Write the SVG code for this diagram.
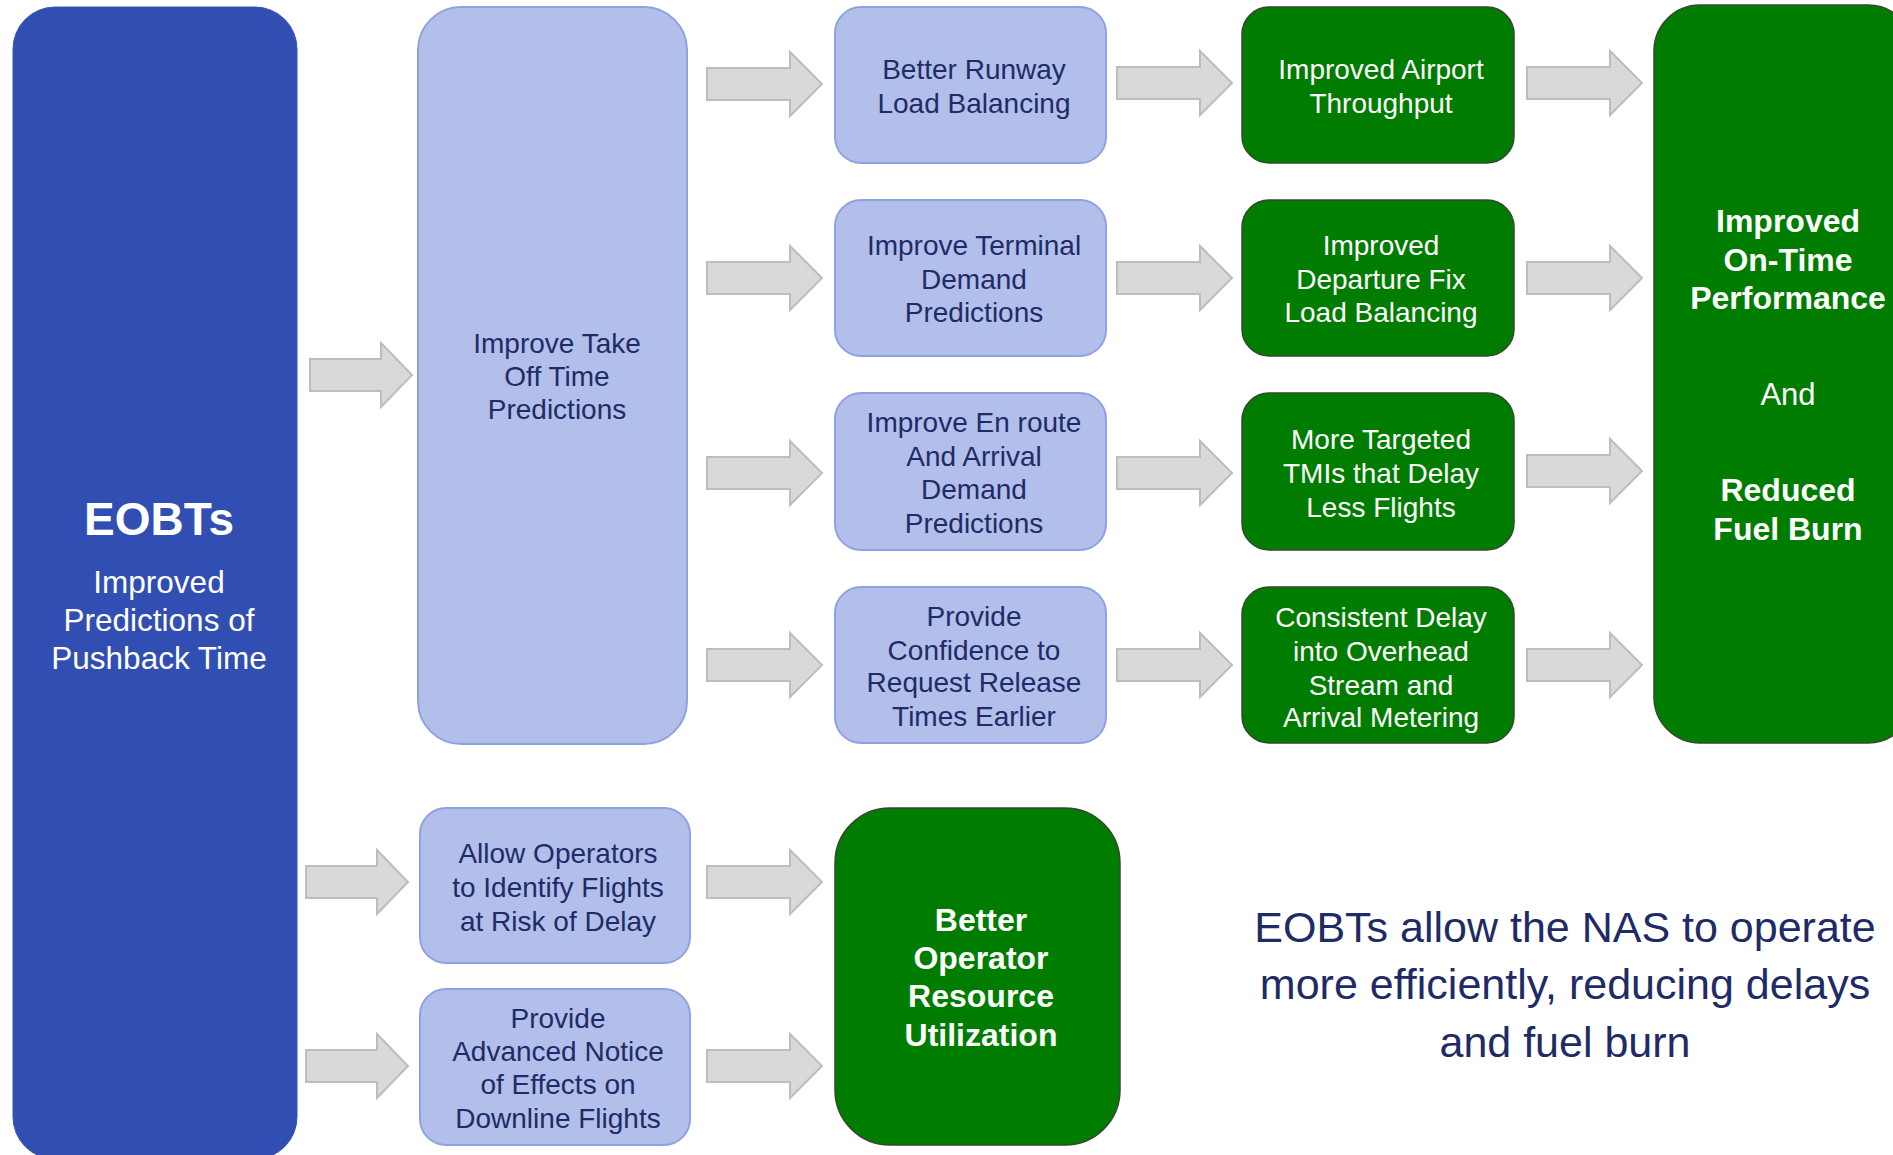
<svg xmlns="http://www.w3.org/2000/svg" width="1893" height="1155" viewBox="0 0 1893 1155">
<defs>
<style>
.bg{fill:#ffffff}
.eobt{fill:#314EB3;stroke:#3A55B8;stroke-width:1}
.blue{fill:#B1BFEA;stroke:#8FA2E0;stroke-width:2}
.green{fill:#007C00;stroke:#34482E;stroke-width:1.5}
.arr{fill:#D9D9D9;stroke:#BDBDBD;stroke-width:2}
.t{font-family:"Liberation Sans",Arial,sans-serif;text-anchor:middle}
.bt{fill:#1F2B66;font-size:28px}
.gt{fill:#ffffff;font-size:28px}
.wb{fill:#ffffff;font-size:32px;font-weight:bold}
.big{fill:#1F2B66;font-size:43px}
</style>
<path id="al" d="M0,-16 H83 V-32 L115,0 L83,32 V16 H0 Z"/>
<path id="as" d="M0,-16 H71 V-32 L102,0 L71,32 V16 H0 Z"/>
</defs>
<rect class="bg" x="0" y="0" width="1893" height="1155"/>

<g id="connectors" class="arr">
<use href="#as" x="310" y="375"/>
<use href="#al" x="707" y="84"/>
<use href="#al" x="707" y="278"/>
<use href="#al" x="707" y="473"/>
<use href="#al" x="707" y="665"/>
<use href="#al" x="1117" y="83"/>
<use href="#al" x="1117" y="278"/>
<use href="#al" x="1117" y="473"/>
<use href="#al" x="1117" y="665"/>
<use href="#al" x="1527" y="83"/>
<use href="#al" x="1527" y="278"/>
<use href="#al" x="1527" y="471"/>
<use href="#al" x="1527" y="665"/>
<use href="#as" x="306" y="882"/>
<use href="#as" x="306" y="1066"/>
<use href="#al" x="707" y="882"/>
<use href="#al" x="707" y="1066"/>
</g>

<g id="eobts">
<rect class="eobt" x="13" y="7" width="284" height="1152" rx="42"/>
<text class="t" x="159" y="535" fill="#ffffff" font-size="46" font-weight="bold">EOBTs</text>
<text class="t" x="159" y="593" fill="#ffffff" font-size="31.5">Improved</text>
<text class="t" x="159" y="631" fill="#ffffff" font-size="31.5">Predictions of</text>
<text class="t" x="159" y="669" fill="#ffffff" font-size="31.5">Pushback Time</text>
</g>

<g id="takeoff">
<rect class="blue" x="418" y="7" width="269" height="737" rx="43"/>
<text class="t bt" x="557" y="353">Improve Take</text>
<text class="t bt" x="557" y="386">Off Time</text>
<text class="t bt" x="557" y="419">Predictions</text>
</g>

<g id="runway">
<rect class="blue" x="835" y="7" width="271" height="156" rx="26"/>
<text class="t bt" x="974" y="79">Better Runway</text>
<text class="t bt" x="974" y="113">Load Balancing</text>
</g>
<g id="terminal">
<rect class="blue" x="835" y="200" width="271" height="156" rx="26"/>
<text class="t bt" x="974" y="255">Improve Terminal</text>
<text class="t bt" x="974" y="288.5">Demand</text>
<text class="t bt" x="974" y="322">Predictions</text>
</g>
<g id="enroute">
<rect class="blue" x="835" y="393" width="271" height="157" rx="26"/>
<text class="t bt" x="974" y="432">Improve En route</text>
<text class="t bt" x="974" y="466">And Arrival</text>
<text class="t bt" x="974" y="499">Demand</text>
<text class="t bt" x="974" y="533">Predictions</text>
</g>
<g id="release">
<rect class="blue" x="835" y="587" width="271" height="156" rx="26"/>
<text class="t bt" x="974" y="626">Provide</text>
<text class="t bt" x="974" y="659.5">Confidence to</text>
<text class="t bt" x="974" y="692">Request Release</text>
<text class="t bt" x="974" y="726">Times Earlier</text>
</g>

<g id="throughput">
<rect class="green" x="1242" y="7" width="272" height="156" rx="27"/>
<text class="t gt" x="1381" y="79">Improved Airport</text>
<text class="t gt" x="1381" y="113">Throughput</text>
</g>
<g id="departurefix">
<rect class="green" x="1242" y="200" width="272" height="156" rx="27"/>
<text class="t gt" x="1381" y="255">Improved</text>
<text class="t gt" x="1381" y="289">Departure Fix</text>
<text class="t gt" x="1381" y="322">Load Balancing</text>
</g>
<g id="tmis">
<rect class="green" x="1242" y="393" width="272" height="157" rx="27"/>
<text class="t gt" x="1381" y="449">More Targeted</text>
<text class="t gt" x="1381" y="483">TMIs that Delay</text>
<text class="t gt" x="1381" y="517">Less Flights</text>
</g>
<g id="metering">
<rect class="green" x="1242" y="587" width="272" height="156" rx="27"/>
<text class="t gt" x="1381" y="627">Consistent Delay</text>
<text class="t gt" x="1381" y="661">into Overhead</text>
<text class="t gt" x="1381" y="695">Stream and</text>
<text class="t gt" x="1381" y="727">Arrival Metering</text>
</g>

<g id="ontime">
<rect class="green" x="1654" y="5" width="260" height="738" rx="46"/>
<text class="t wb" x="1788" y="232">Improved</text>
<text class="t wb" x="1788" y="271">On-Time</text>
<text class="t wb" x="1788" y="309">Performance</text>
<text class="t" x="1788" y="405" fill="#ffffff" font-size="31">And</text>
<text class="t wb" x="1788" y="501">Reduced</text>
<text class="t wb" x="1788" y="540">Fuel Burn</text>
</g>

<g id="allow">
<rect class="blue" x="420" y="808" width="270" height="155" rx="26"/>
<text class="t bt" x="558" y="863">Allow Operators</text>
<text class="t bt" x="558" y="897">to Identify Flights</text>
<text class="t bt" x="558" y="931">at Risk of Delay</text>
</g>
<g id="notice">
<rect class="blue" x="420" y="989" width="270" height="156" rx="26"/>
<text class="t bt" x="558" y="1028">Provide</text>
<text class="t bt" x="558" y="1061">Advanced Notice</text>
<text class="t bt" x="558" y="1094">of Effects on</text>
<text class="t bt" x="558" y="1128">Downline Flights</text>
</g>

<g id="operator">
<rect class="green" x="835" y="808" width="285" height="337" rx="55"/>
<text class="t wb" x="981" y="931">Better</text>
<text class="t wb" x="981" y="969">Operator</text>
<text class="t wb" x="981" y="1007">Resource</text>
<text class="t wb" x="981" y="1046">Utilization</text>
</g>

<g id="summary">
<text class="t big" x="1565" y="942">EOBTs allow the NAS to operate</text>
<text class="t big" x="1565" y="999">more efficiently, reducing delays</text>
<text class="t big" x="1565" y="1057">and fuel burn</text>
</g>
</svg>
